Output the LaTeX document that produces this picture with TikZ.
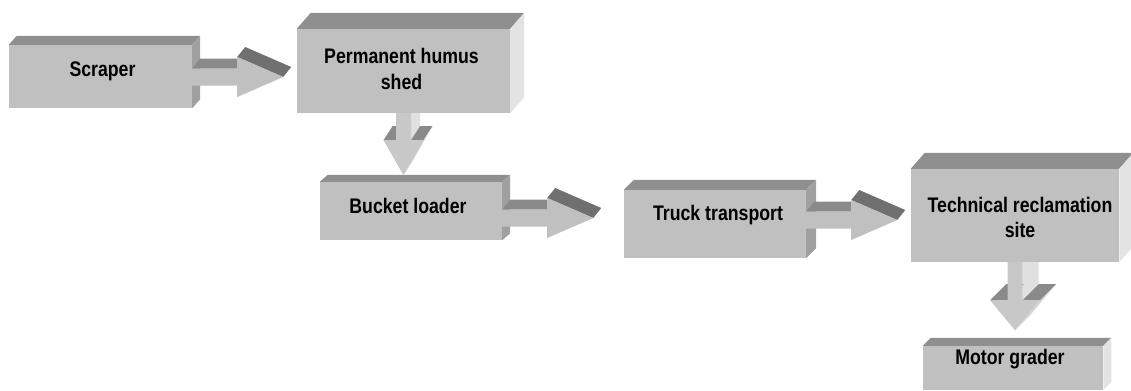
\documentclass[tikz,border=0pt]{standalone}
\usepackage{fontspec}
\setmainfont{Liberation Sans}[FakeStretch=0.84]
\usetikzlibrary{calc}

\definecolor{boxfront}{HTML}{C0C0C0}
\definecolor{boxtop}{HTML}{8F8F8F}
\definecolor{sidedark}{HTML}{A0A0A0}
\definecolor{sidelight}{HTML}{E3E3E3}
\definecolor{shafttop}{HTML}{8A8A8A}
\definecolor{headtop}{HTML}{707070}
\definecolor{vfront}{HTML}{C8C8C8}
\definecolor{vside}{HTML}{E0E0E0}
\definecolor{vhead}{HTML}{D6D6D6}

% block arrow to the right: start point, vertical offset
\newcommand{\harrow}[2]{%
  \begin{scope}[shift={(#1)},shift={(0,#2)}]
    \fill[shafttop] (0,-8.5) -- ++(8,-10) -- ++(45,0) -- (45,-8.5) -- cycle;
    \fill[headtop] (45,-20) -- ++(8,-10) -- (99,-10) -- (91,0) -- cycle;
    \fill[boxfront] (0,-8.5) -- (45,-8.5) -- (45,-20) -- (91,0) -- (45,20) -- (45,8.5) -- (0,8.5) -- cycle;
  \end{scope}}

% block arrow downwards: start point, shaft length, head length, head half width, depth x, depth y
\newcommand{\varrow}[6]{%
  \begin{scope}[shift={(#1)}]
    \fill[vside] (7.5,0) -- ++(#5,0) -- ++(0,#2+#6) -- (7.5,#2) -- cycle;
    \fill[shafttop] (-#4,#2) -- ++(#5,#6) -- ++({#4-7.5},0) -- (-7.5,#2) -- cycle;
    \fill[shafttop] (7.5,#2) -- ++(#5,#6) -- ++({#4-7.5},0) -- (#4,#2) -- cycle;
    \fill[vhead] (0,#2+#3) -- ++(#5,#6) -- (#4+#5,#2+#6) -- (#4,#2) -- cycle;
    \fill[vfront] (-7.5,0) -- (7.5,0) -- (7.5,#2) -- (#4,#2) -- (0,#2+#3) -- (-#4,#2) -- (-7.5,#2) -- cycle;
  \end{scope}}

\begin{document}
\begin{tikzpicture}[x=0.03cm,y=-0.03cm,
    font=\bfseries\fontsize{18}{21.5}\selectfont,
    box/.style={fill=boxfront,inner sep=0pt},
    size/.style 2 args={minimum width=#1*0.03cm,minimum height=#2*0.03cm}]
    \useasboundingbox (0,0) rectangle (1131,390);

    \node[box,size={183}{63},label={[shift={(2,-5.5)}]center:Scraper}] at (100.5,76.5) (scraper) {};
    \node[box,size={213}{84},label={[shift={(-2,-2)},align=center]center:Permanent humus\\shed}] at (403.5,71) (shed) {};
    \node[box,size={182}{58},label={[shift={(-3,-5)}]center:Bucket loader}] at (411,211) (bucket) {};
    \node[box,size={182}{68},label={[shift={(3,-9)}]center:Truck transport}] at (715,224) (truck) {};
    \node[box,size={208}{93},label={[shift={(5,2)},align=center]center:Technical reclamation\\site}] at (1015,215.5) (tech) {};
    \node[box,size={180}{44},label={[shift={(-3,-9)}]center:Motor grader}] at (1013,368) (grader) {};

    \foreach \n/\dx/\dy/\sc in {scraper/8/-9/sidedark, shed/14/-16/sidelight, bucket/8/-7/sidedark,
        truck/10/-10/sidedark, tech/14/-16/sidelight, grader/8/-8/sidelight} {
        \fill[boxtop] (\n.north west) -- ++(\dx,\dy) -- ($(\n.north east)+(\dx,\dy)$) -- (\n.north east) -- cycle;
        \fill[\sc] (\n.north east) -- ++(\dx,\dy) -- ($(\n.south east)+(\dx,\dy)$) -- (\n.south east) -- cycle;
    }

    \harrow{scraper.east}{0.5}
    \harrow{bucket.east}{7}
    \harrow{truck.east}{-4}
    \varrow{shed.south}{27}{35}{20}{9}{-14}
    \varrow{tech.south}{38}{30}{25}{16}{-16}
\end{tikzpicture}
\end{document}
